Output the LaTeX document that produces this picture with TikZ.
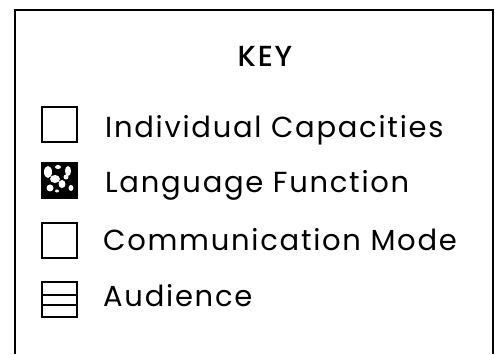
\documentclass[tikz,border=0pt]{standalone}
\usepackage{fontspec}
\setmainfont{Poppins}[LetterSpace=6]
\newfontfamily\keyfont{Poppins Medium}[LetterSpace=6]
\usetikzlibrary{positioning}

\tikzset{
  swatch/.style={draw=black,line width=2.2pt,minimum width=35pt,minimum height=35pt,inner sep=0pt},
  keytext/.style={anchor=base west,inner sep=0pt,font=\fontsize{29}{33}\selectfont},
}

\begin{document}
\begin{tikzpicture}[x=1pt,y=1pt]
\useasboundingbox (0,0) rectangle (498,355);

% frame, open at the bottom
\draw[line width=2.5pt] (15,1) -- (15,345) -- (493,345) -- (493,1);

\node[anchor=base,inner sep=0pt,font=\fontsize{29}{33}\keyfont] (key) at (265,288) {KEY};

% swatches
\node[swatch] (indiv) at (59.5,230.5) {};
\node[swatch,fill=black] (lang) at (59.5,174.5) {};
\node[swatch] (comm) at (59.5,114.5) {};
\node[swatch] (aud) at (59.5,55.5) {};

% mottled fill of the language swatch
\begin{scope}
  \clip ([shift={(2.5pt,2.5pt)}]lang.south west) rectangle ([shift={(-2.5pt,-2.5pt)}]lang.north east);
  \fill[white] (48,183) ellipse (4pt and 6pt);
  \fill[white] (55,176) ellipse (5pt and 4pt);
  \fill[white] (68,184) ellipse (3pt and 5pt);
  \fill[white] (50,167) ellipse (3.5pt and 3.5pt);
  \fill[white] (62,171) ellipse (3.5pt and 4pt);
  \fill[white] (71,167) ellipse (2.5pt and 3pt);
  \fill[white] (58,188) ellipse (3pt and 2pt);
  \fill[white] (66,178) ellipse (2.5pt and 2.5pt);
  \fill[white] (57,164) ellipse (2pt and 1.5pt);
\end{scope}

% bands of the audience swatch
\draw[line width=2pt] (aud.west |- 0,60) -- (aud.east |- 0,60);
\draw[line width=2pt] (aud.west |- 0,50) -- (aud.east |- 0,50);

% labels
\node[keytext] (indivtext) at (105,217) {Individual Capacities};
\node[keytext] (langtext) at (105,162) {Language Function};
\node[keytext] (commtext) at (103,104) {Communication Mode};
\node[keytext] (audtext) at (103,48) {Audience};
\end{tikzpicture}
\end{document}
